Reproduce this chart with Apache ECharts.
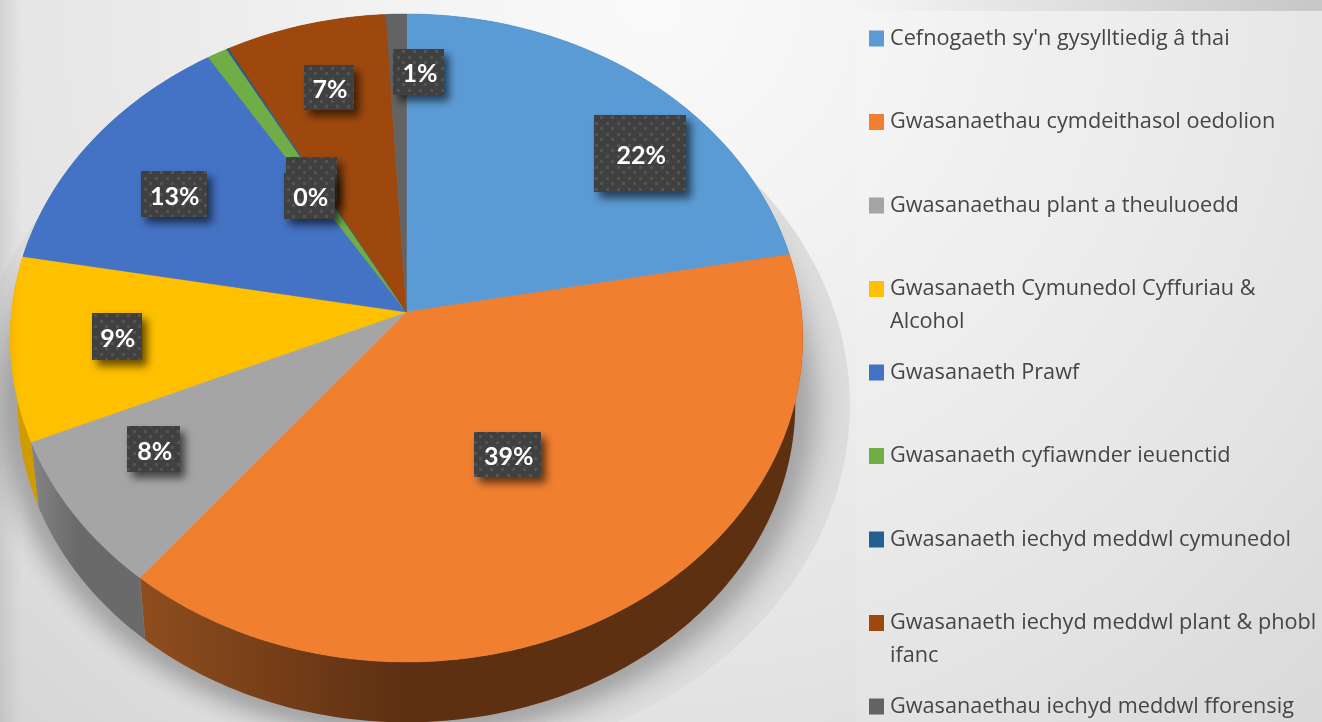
<!DOCTYPE html>
<html><head><meta charset="utf-8">
<style>html,body{margin:0;padding:0;background:#eee}#c{width:1322px;height:722px}</style>
<script src="https://cdn.jsdelivr.net/npm/echarts@6/dist/echarts.min.js"></script>
</head><body><div id="c"></div>
<script>
// ---- data ----
const categories = ["Cefnogaeth sy'n gysylltiedig â thai","Gwasanaethau cymdeithasol oedolion","Gwasanaethau plant a theuluoedd","Gwasanaeth Cymunedol Cyffuriau & Alcohol","Gwasanaeth Prawf","Gwasanaeth cyfiawnder ieuenctid","Gwasanaeth iechyd meddwl cymunedol","Gwasanaeth iechyd meddwl plant & phobl ifanc","Gwasanaethau iechyd meddwl fforensig"];
const shares = [22.1,38.8,7.7,9.2,13.2,0.9,0.1,7.1,0.9];
const colours = ['#5B9BD5','#F17F30','#A5A5A5','#FFC000','#4472C4','#70AD47','#255E91','#9E480E','#636363'];
const wallLeft = ['#3b6d9a','#8f4d1e','#848484','#dba500','#30528f','#4f7c32','#1a4268','#6f330a','#464646'];
const wallRight = ['#3b6d9a','#5d3012','#6a6a6a','#cf9c00','#30528f','#4f7c32','#1a4268','#6f330a','#464646'];
const legendBreaks = {3:"Gwasanaeth Cymunedol Cyffuriau &\nAlcohol",7:"Gwasanaeth iechyd meddwl plant & phobl\nifanc"};
// label displacement from the slice's mid radius, and label box sizes
const labelNudgeX = [87.5,-24.5,-57.5,-53,-41,21.5,13.5,-15,18.8];
const labelNudgeY = [-15.5,-31,18,3,-13,27,46,-47.5,-56];
const labelBoxW = [92,67,53,50,66,51,51,50,51];
const labelBoxH = [77,45,46,47,46,46,46,45,46];
const hiddenText = [5];

// ---- projection of the tilted disc ----
const apexX=406.5, apexY=312, radX=395, radY=321.9, persp=0.0802, depth=67, baseScale=0.981;
function project(frac, r, lower){
  const a=frac*2*Math.PI, u=Math.sin(a)*r, v=Math.cos(a)*r, w=1+persp*v;
  const s=lower?baseScale:1, off=lower?depth:0;
  return [apexX+s*radX*u/w, apexY+off-s*radY*v/w];
}
function arc(f0,f1,lower){
  const n=Math.max(2,Math.ceil((f1-f0)*360)), p=[];
  for(let i=0;i<=n;i++) p.push(project(f0+(f1-f0)*i/n,1,lower));
  return p;
}
function softShadow(){
  // soft drop shadow: nested solid rings from the backdrop grey to the darkest grey, outermost first
  const out=[], step=2.5, reach=50;
  const dark=d=>.2*Math.exp(-(d/25)*(d/25))+.05*Math.exp(-(d/32)*(d/32));
  let order=1;
  for(let d=reach;d>=0;d-=step){
    const pts=[], r=1+d/395, g=Math.round(222*(1-dark(d)));
    for(let k=0;k<180;k++){const q=project(k/180,r,true);pts.push([q[0]+d*.1,q[1]-d*.12]);}
    out.push({type:'polygon',z2:order++,shape:{points:pts},style:{fill:'rgb('+g+','+g+','+g+')'}});
  }
  return out;
}
const total=shares.reduce((a,b)=>a+b,0);
const starts=shares.reduce((acc,v,i)=>{acc.push(i?acc[i-1]+shares[i-1]/total:0);return acc;},[]);

// dotted label fill
const pat=document.createElement('canvas');pat.width=11;pat.height=11;
(function(){const g=pat.getContext('2d');g.fillStyle='#404040';g.fillRect(0,0,11,11);g.fillStyle='#535353';
 g.fillRect(1,1,3,3);g.fillRect(6,6,3,3);})();

function sliceItem(i){
  return function(params,api){
    const share=api.value(0)/total, f0=starts[i], f1=f0+share, mid=(f0+f1)/2;
    const topArc=arc(f0,f1,false), lowArc=arc(f0,f1,true);
    const top=[[apexX,apexY]].concat(topArc);
    const wall=topArc.concat(lowArc.slice().reverse());
    const kids=i===0?softShadow():[];
    kids.push(
      {type:'polygon',z2:100,shape:{points:wall},style:{fill:new echarts.graphic.LinearGradient(0,0,1,0,[{offset:0,color:wallLeft[i]},{offset:.4,color:wallRight[i]},{offset:1,color:wallRight[i]}]),stroke:null}},
      {type:'polygon',z2:110,shape:{points:top},style:{fill:colours[i],stroke:colours[i],lineWidth:.5}}
    );
    const c=project(mid,.6,false), lx=c[0]+labelNudgeX[i], ly=c[1]+labelNudgeY[i];
    const bw=labelBoxW[i], bh=labelBoxH[i];
    kids.push({type:'rect',z2:200+i,shape:{x:Math.round(lx-bw/2),y:Math.round(ly-bh/2),width:bw,height:bh},
      style:{fill:{image:pat,repeat:'repeat'},shadowBlur:9,shadowColor:'rgba(0,0,0,.6)',shadowOffsetX:5,shadowOffsetY:6}});
    if(hiddenText.indexOf(i)<0) kids.push({type:'text',z2:300,style:{x:lx+1,y:ly+2.5,text:Math.round(api.value(0))+'%',fill:'#fff',align:'center',verticalAlign:'middle',font:'bold 25px Lato'}});
    return {type:'group',children:kids};
  };
}
const rowStart=37,rowStep=83.5,rowLine=33;
const series=categories.map((n,i)=>({type:'custom',name:n,coordinateSystem:'none',animation:false,z:i===0?1:2,itemStyle:{color:colours[i]},data:[[shares[i]]],renderItem:sliceItem(i)}));
const legends=categories.map((n,i)=>({
  data:[{name:n,icon:'rect',itemStyle:{color:colours[i]}}],left:869,
  top:rowStart+i*rowStep-(legendBreaks[i]?rowLine*1.5:rowLine/2),
  orient:'vertical',padding:0,itemWidth:15,itemHeight:16,selectedMode:false,
  formatter:()=>legendBreaks[i]?'\n'+legendBreaks[i]:n,
  textStyle:{fontFamily:'Open Sans',fontSize:21.7,color:'#454545',lineHeight:rowLine,padding:[3,0,0,1]}
}));
const chart=echarts.init(document.getElementById('c'),null,{renderer:'canvas'});
chart.setOption({animation:false,
  backgroundColor:new echarts.graphic.RadialGradient(650,0,1000,[{offset:0,color:'#fafafa'},{offset:.25,color:'#f3f3f3'},{offset:.65,color:'#e5e5e5'},{offset:1,color:'#d4d4d4'}],true),
  graphic:[
    {type:'rect',silent:true,z:0,shape:{x:856,y:0,width:466,height:11},style:{fill:new echarts.graphic.LinearGradient(0,0,1,0,[{offset:0,color:'rgba(0,0,0,0)'},{offset:1,color:'rgba(0,0,0,.13)'}])}},
    {type:'rect',silent:true,z:0,shape:{x:856,y:11,width:466,height:711},style:{fill:'rgba(255,255,255,.1)'}},
    {type:'rect',silent:true,z:5,shape:{x:0,y:0,width:22,height:722},style:{fill:new echarts.graphic.LinearGradient(0,0,1,0,[{offset:0,color:'rgba(0,0,0,.08)'},{offset:1,color:'rgba(0,0,0,0)'}])}}
  ],
  legend:legends,series:series});
</script></body></html>
